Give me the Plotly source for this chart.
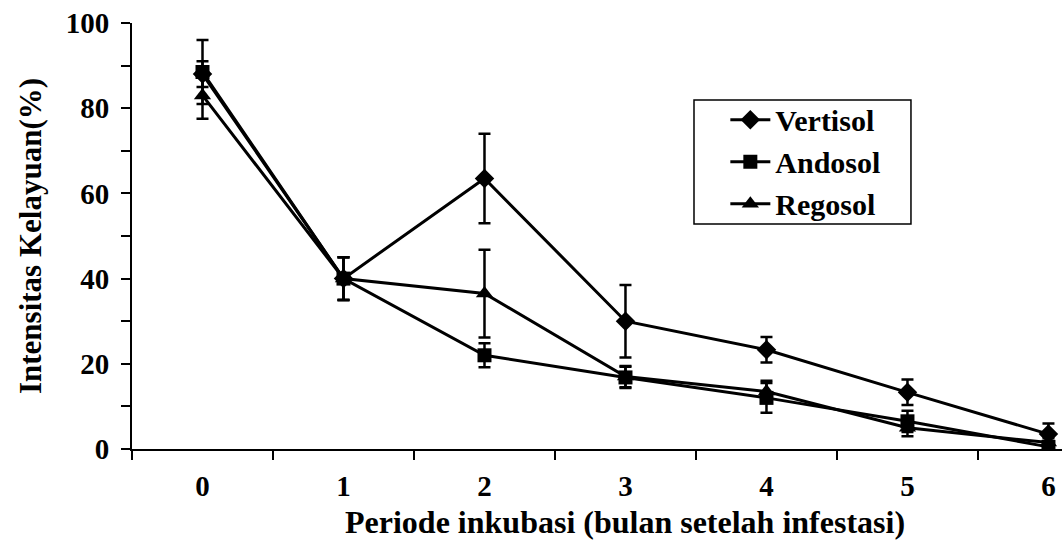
import plotly.graph_objects as go

months = ["0", "1", "2", "3", "4", "5", "6"]

vertisol = [88, 40, 63.5, 30, 23.3, 13.3, 3.5]
vertisol_err = [3, 5, 10.5, 8.5, 3, 3, 2.5]

andosol = [88.5, 40, 22, 16.8, 12, 6.5, 0.5]
andosol_err = [7.5, 5, 2.8, 2.5, 3.5, 2.5, 0.8]

regosol = [83, 40, 36.5, 17, 13.5, 5, 1.5]
regosol_err = [5.5, 5, 10.3, 2.5, 2.5, 2, 1]

y_ticks = list(range(0, 101, 20))

FONT = "Liberation Serif"

fig = go.Figure()

series = [
    ("Vertisol", vertisol, vertisol_err, "diamond", 15),
    ("Andosol", andosol, andosol_err, "square", 14),
    ("Regosol", regosol, regosol_err, "triangle-up", 15),
]

for name, vals, errs, sym, size in series:
    fig.add_trace(go.Scatter(
        x=months, y=vals, name=name, mode="lines+markers", legendgroup=name,
        line=dict(color="black", width=3),
        marker=dict(symbol=sym, size=size, color="black"),
        error_y=dict(type="data", array=errs, visible=True,
                     color="black", thickness=2.5, width=6),
    ))

# legend frame
fig.add_shape(type="rect", xref="paper", yref="paper",
              x0=0.6043, x1=0.8376, y0=0.5282, y1=0.8192,
              line=dict(color="black", width=1.5), fillcolor="rgba(0,0,0,0)",
              layer="above")

fig.add_annotation(text="Periode inkubasi (bulan setelah infestasi)",
                   xref="paper", yref="paper", x=0.5306, y=-0.171,
                   xanchor="center", yanchor="middle", showarrow=False,
                   font=dict(family=FONT, size=32, weight="bold", color="black"))

fig.update_layout(
    width=1062, height=542,
    margin=dict(l=132, r=0, t=23, b=93),
    plot_bgcolor="white", paper_bgcolor="white",
    font=dict(family=FONT, color="black", size=30, weight="bold"),
    showlegend=True,
    legend=dict(
        x=0.638, y=0.834, xanchor="left", yanchor="top",
        borderwidth=0, bgcolor="rgba(0,0,0,0)",
        font=dict(family=FONT, size=30, color="black", weight="bold"),
        tracegroupgap=0, itemwidth=40,
    ),
    xaxis=dict(
        type="category", range=[-0.5, 6.096],
        showline=True, linecolor="black", linewidth=2,
        ticks="outside", ticklen=9, tickwidth=2, tickcolor="black",
        tickson="boundaries", showgrid=False, zeroline=False,
        ticklabelstandoff=10,
        tickfont=dict(family=FONT, size=29, weight="bold"),
    ),
    yaxis=dict(
        range=[0, 100], tickvals=y_ticks,
        showline=True, linecolor="black", linewidth=2,
        ticks="outside", ticklen=9, tickwidth=2, tickcolor="black",
        minor=dict(dtick=10, ticks="outside", ticklen=9, tickwidth=2, tickcolor="black", showgrid=False),
        showgrid=False, zeroline=False,
        ticklabelstandoff=6,
        tickfont=dict(family=FONT, size=29, weight="bold"),
        title=dict(text="Intensitas Kelayuan(%)",
                   font=dict(family=FONT, size=31, weight="bold"),
                   standoff=15),
    ),
)

fig.write_html("out.html")
